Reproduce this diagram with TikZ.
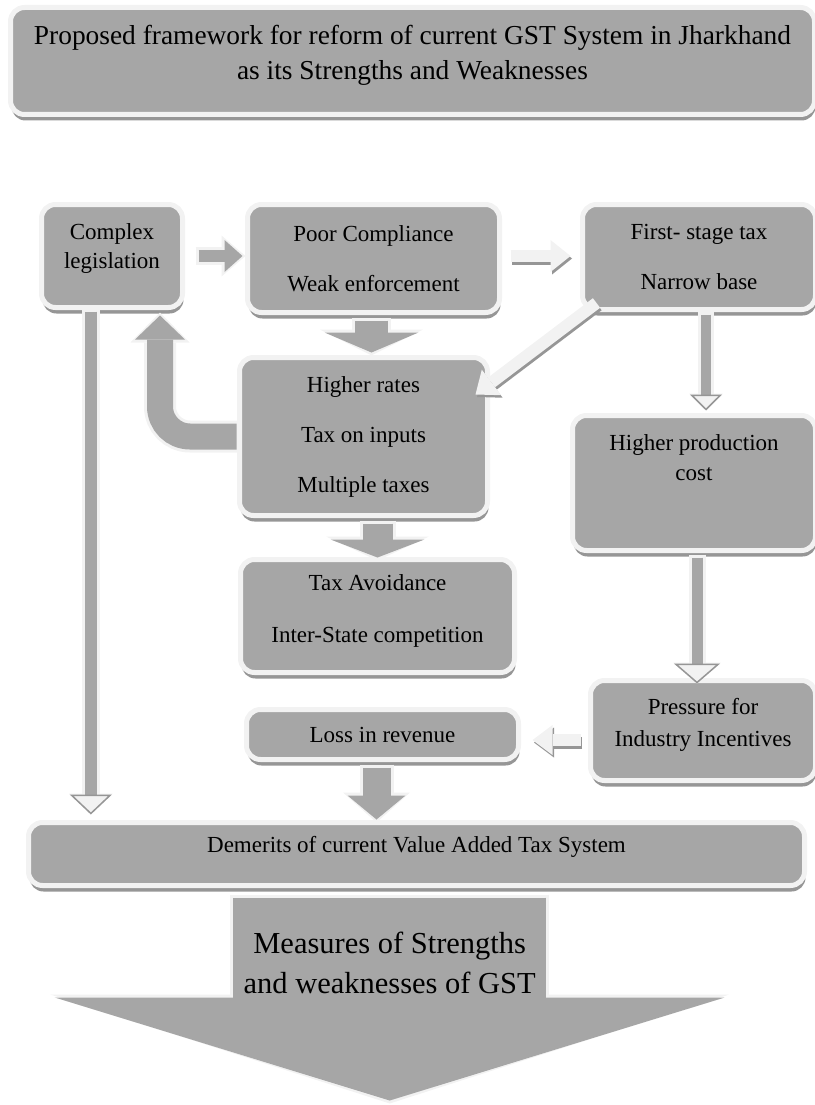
\documentclass[tikz,border=0pt]{standalone}
\usepackage{fontspec}
\setmainfont{Liberation Serif}
\usetikzlibrary{positioning, calc, arrows.meta, shadows}

\definecolor{boxgray}{RGB}{166,166,166}
\definecolor{edge}{RGB}{242,242,242}
\definecolor{shade}{RGB}{150,150,150}

\newcommand{\boxfont}{\fontsize{23}{29}\selectfont}
\newcommand{\titlefont}{\fontsize{27.4}{35}\selectfont}
\newcommand{\bigfont}{\fontsize{30.5}{40}\selectfont}
\newcommand{\lift}[2]{\raisebox{#1}[\height][\depth]{\begin{tabular}{@{}c@{}}#2\end{tabular}}}

\tikzset{
  box/.style={draw=edge, line width=5pt, fill=boxgray, rounded corners=14pt,
    outer sep=0pt, inner sep=0pt, align=center, font=\boxfont,
    drop shadow={shadow xshift=1pt, shadow yshift=-6pt, fill=shade, opacity=1}},
  solid arrow/.style n args={3}{draw=boxgray, line width=#1,
    -{Triangle[width=#2, length=#3, line width=0pt]},
    preaction={draw=edge, line width=#1+6pt, shorten <=-3pt, shorten >=-3pt,
      -{Triangle[width=#2+9pt, length=#3+6pt, line width=0pt]}}},
  hollow arrow/.style n args={3}{draw=edge, line width=#1,
    -{Triangle[width=#2, length=#3, line width=0pt]},
    preaction={draw=shade, line width=#1, transform canvas={shift={(1.5pt,-2.5pt)}},
      -{Triangle[width=#2, length=#3, line width=0pt]}}},
  mixed arrow/.style n args={3}{draw=boxgray, line width=#1,
    -{Triangle[width=#2, length=#3, fill=edge, color=shade, line width=1.5pt]},
    preaction={draw=edge, line width=#1+6pt, shorten <=-3pt,
      -{Triangle[width=#2+2pt, length=#3+1pt, line width=0pt]}}},
}

\begin{document}
\begin{tikzpicture}[x=1pt, y=1pt]
        \useasboundingbox (0,0) rectangle (814,-1105);

        \node[box, font=\titlefont, minimum width=804pt, minimum height=107pt] (tt) at (412.5,-61)
            {\lift{6pt}{Proposed framework for reform of current GST System in Jharkhand\\as its Strengths and Weaknesses}};
        \node[box, minimum width=141pt, minimum height=103pt, below right=90pt and 31pt of tt.south west, anchor=north west] (cl)
            {\lift{8pt}{Complex\\legislation}};
        \node[box, minimum width=252pt, minimum height=108pt, right=65pt of cl.north east, anchor=north west] (pc)
            {Poor Compliance\\[21pt]Weak enforcement};
        \node[box, minimum width=233pt, minimum height=105pt, right=83pt of pc.north east, anchor=north west] (fs)
            {First- stage tax\\[21pt]Narrow base};
        \node[box, minimum width=248pt, minimum height=158pt, below left=45pt and 8pt of pc.south west, anchor=north west] (hr)
            {Higher rates\\[21pt]Tax on inputs\\[21pt]Multiple taxes};
        \node[box, minimum width=274pt, minimum height=113pt, below right=44pt and 1pt of hr.south west, anchor=north west] (ta)
            {\lift{5pt}{Tax Avoidance\\[23pt]Inter-State competition}};
        \node[box, minimum width=243pt, minimum height=135pt, below left=106pt and 10pt of fs.south west, anchor=north west] (hp)
            {\lift{23pt}{Higher production\\[1pt]cost}};
        \node[box, minimum width=225pt, minimum height=100pt, below=130pt of hp.south east, anchor=north east] (pr)
            {\lift{6pt}{Pressure for\\[3pt]Industry Incentives}};
        \node[box, minimum width=272pt, minimum height=50pt, below right=37pt and 6pt of ta.south west, anchor=north west] (ls)
            {Loss in revenue};
        \node[box, minimum width=776pt, minimum height=63pt, below left=63pt and 218pt of ls.south west, anchor=north west] (dm)
            {\lift{7pt}{Demerits of current Value Added Tax System}};

        \coordinate (clfoot) at ($(cl.south west)!0.35!(cl.south east)$);
        \coordinate (bigtop) at ($(dm.south west)!0.4655!(dm.south east)+(0,-12)$);
        \coordinate (bigtip) at ($(bigtop)+(0,-203)$);

        \draw[solid arrow={12pt}{32pt}{18pt}] ($(cl.east)+(16,0)$) -- ($(cl.east -| pc.west)+(-5,0)$);
        \draw[hollow arrow={12pt}{32pt}{20pt}] ($(pc.east)+(11,2.5)$) -- ($(pc.east -| fs.west)+(-12,2.5)$);
        \draw[solid arrow={33pt}{94pt}{20pt}] ($(pc.south)+(-2,-8)$) -- ($(pc.south |- hr.north)+(-2,5)$);
        \draw[hollow arrow={12pt}{32pt}{20pt}] ($(fs.south west)+(14,6.5)$) -- ($(hr.north east)+(-12,-37)$);
        \draw[mixed arrow={10pt}{32pt}{16pt}] ($(fs.south)+(7,-5)$) -- ($(fs.south |- hp.north)+(7,5)$);
        \draw[solid arrow={26pt}{50pt}{24pt}, rounded corners=30pt] ($(hr.west)+(-3,0)$) -| ($(cl.south)+(48,-8)$);
        \draw[mixed arrow={12pt}{42pt}{20pt}] ($(clfoot)+(0,-4)$) -- ($(clfoot |- dm.north)+(0,8)$);
        \draw[solid arrow={30pt}{94pt}{18pt}] ($(hr.south -| ta.north)+(0,-8)$) -- ($(ta.north)+(0,2)$);
        \draw[mixed arrow={11pt}{46pt}{20pt}] ($(hp.south)+(3,-7)$) -- ($(hp.south |- pr.north)+(3,-3)$);
        \draw[hollow arrow={12pt}{30pt}{20pt}] ($(pr.west)+(-10,-9.5)$) -- ($(pr.west -| ls.east)+(14,-9.5)$);
        \draw[solid arrow={28pt}{58pt}{24pt}] ($(ls.south)+(-6,-8)$) -- ($(ls.south |- dm.north)+(-6,3)$);
        \draw[solid arrow={313pt}{670pt}{103pt}] (bigtop) -- (bigtip)
            node[pos=0.32, font=\bigfont, align=center, text=black] {Measures of Strengths\\and weaknesses of GST};
\end{tikzpicture}
\end{document}
